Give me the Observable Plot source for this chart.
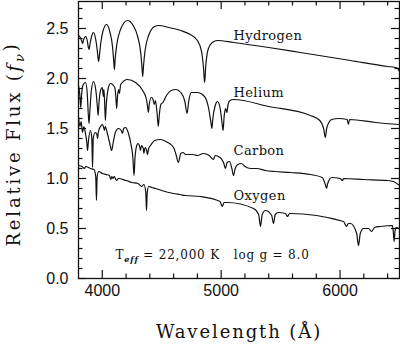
<!DOCTYPE html>
<html><head><meta charset="utf-8">
<script src="https://cdn.jsdelivr.net/npm/d3@7"></script>
<script src="https://cdn.jsdelivr.net/npm/@observablehq/plot@0.6"></script>
<style>
html,body{margin:0;padding:0;background:#fff}
#chart{width:400px;height:346px}
svg text{white-space:pre}
</style>
</head><body><div id="chart"></div>
<script>
// Spectra: [wavelength (Å), relative flux]
const hydrogen = [
 [3800,2.43],[3815,2.41],[3828,2.37],[3835,2.35],[3843,2.39],[3860,2.42],[3875,2.37],[3883,2.31],[3889,2.29],[3896,2.34],[3910,2.42],[3926,2.46],
 [3945,2.39],[3958,2.28],[3966,2.19],[3970,2.17],[3975,2.22],[3988,2.36],[4005,2.47],[4036,2.54],[4065,2.46],[4085,2.33],[4096,2.18],[4102,2.09],
 [4108,2.19],[4122,2.34],[4150,2.48],[4212,2.58],[4260,2.53],[4300,2.41],[4325,2.24],[4334,2.11],[4340,2.02],[4347,2.13],[4360,2.28],[4390,2.43],
 [4440,2.52],[4475,2.53],[4560,2.51],[4660,2.48],[4740,2.44],[4800,2.38],[4835,2.27],[4852,2.10],[4861,1.96],[4870,2.12],[4890,2.29],[4925,2.36],
 [4969,2.38],[5104,2.36],[5400,2.31],[5667,2.26],[6088,2.18],[6400,2.12],[6466,2.11],[6485,2.10],[6500,2.07]
];
const helium = [
 [3800,1.93],[3810,1.85],[3819,1.71],[3826,1.84],[3840,1.94],[3859,1.96],[3873,1.86],[3883,1.63],[3889,1.55],[3895,1.66],[3908,1.88],[3926,1.97],
 [3945,1.89],[3958,1.73],[3965,1.63],[3972,1.75],[3985,1.88],[4000,1.91],[4009,1.82],[4014,1.89],[4020,1.76],[4026,1.58],[4033,1.73],[4050,1.90],
 [4069,1.95],[4105,1.91],[4114,1.82],[4121,1.70],[4128,1.82],[4137,1.89],[4144,1.85],[4155,1.94],[4212,1.99],[4280,1.96],[4340,1.88],[4372,1.79],
 [4383,1.70],[4388,1.66],[4395,1.74],[4412,1.81],[4424,1.80],[4438,1.74],[4447,1.78],[4462,1.64],[4471,1.52],[4480,1.64],[4492,1.74],[4510,1.76],
 [4540,1.83],[4580,1.88],[4620,1.89],[4660,1.86],[4695,1.77],[4713,1.65],[4728,1.78],[4750,1.86],[4800,1.86],[4860,1.82],[4893,1.71],[4914,1.56],
 [4922,1.50],[4930,1.60],[4950,1.73],[4969,1.77],[4990,1.71],[5006,1.57],[5016,1.48],[5025,1.62],[5036,1.70],[5048,1.66],[5058,1.74],[5075,1.78],
 [5104,1.79],[5400,1.72],[5750,1.63],[5830,1.58],[5862,1.50],[5876,1.41],[5889,1.51],[5930,1.59],[5990,1.60],[6060,1.59],[6070,1.54],[6080,1.59],
 [6300,1.56],[6500,1.54]
];
const carbon = [
 [3800,1.62],[3812,1.52],[3822,1.57],[3834,1.46],[3845,1.52],[3860,1.44],[3870,1.36],[3876,1.28],[3884,1.38],[3901,1.48],[3912,1.40],[3918,1.11],
 [3924,1.40],[3940,1.46],[3955,1.44],[3960,1.40],[3966,1.46],[3985,1.52],[4002,1.54],[4012,1.51],[4019,1.48],[4025,1.52],[4045,1.44],[4065,1.34],
 [4078,1.28],[4092,1.36],[4110,1.46],[4136,1.50],[4160,1.48],[4170,1.45],[4180,1.50],[4195,1.51],[4215,1.47],[4240,1.35],[4258,1.20],[4267,1.03],
 [4276,1.22],[4290,1.33],[4300,1.35],[4315,1.32],[4321,1.28],[4330,1.33],[4345,1.30],[4350,1.25],[4360,1.31],[4375,1.27],[4380,1.24],[4390,1.30],
 [4406,1.33],[4440,1.38],[4490,1.39],[4550,1.36],[4600,1.31],[4620,1.24],[4640,1.16],[4660,1.25],[4680,1.26],[4700,1.24],[4760,1.24],[4800,1.23],
 [4850,1.25],[4900,1.23],[4935,1.19],[4950,1.23],[4990,1.21],[5020,1.16],[5036,1.10],[5050,1.16],[5070,1.17],[5090,1.10],[5104,1.03],[5118,1.10],
 [5140,1.14],[5170,1.15],[5200,1.12],[5250,1.10],[5300,1.10],[5373,1.08],[5450,1.07],[5583,1.06],[5751,1.04],[5850,1.01],[5876,0.94],[5886,0.90],
 [5896,0.95],[5930,1.01],[6000,1.00],[6021,0.98],[6030,1.00],[6200,0.99],[6400,0.98],[6450,0.97],[6500,0.93]
];
const oxygen = [
 [3800,1.13],[3830,1.12],[3850,1.10],[3860,1.12],[3900,1.10],[3930,1.09],[3945,1.02],[3951,0.78],[3957,1.02],[3970,1.07],[4000,1.05],[4030,1.04],
 [4060,1.03],[4072,0.99],[4080,1.02],[4090,1.00],[4100,1.02],[4120,0.98],[4135,1.00],[4200,0.98],[4250,0.96],[4300,0.95],[4330,0.92],[4350,0.94],
 [4366,0.86],[4372,0.68],[4378,0.86],[4390,0.92],[4420,0.91],[4450,0.90],[4500,0.88],[4600,0.85],[4650,0.84],[4700,0.83],[4826,0.82],[4990,0.77],
 [5009,0.72],[5025,0.76],[5053,0.76],[5272,0.70],[5315,0.64],[5331,0.52],[5345,0.64],[5373,0.68],[5425,0.63],[5440,0.55],[5455,0.64],[5482,0.66],
 [5540,0.65],[5558,0.62],[5575,0.65],[6029,0.57],[6054,0.52],[6070,0.55],[6088,0.55],[6140,0.45],[6155,0.33],[6170,0.45],[6197,0.50],[6240,0.50],
 [6264,0.47],[6290,0.51],[6340,0.52],[6441,0.53],[6449,0.45],[6455,0.37],[6461,0.46],[6470,0.51],[6500,0.50]
];
const elements = ["Hydrogen","Helium","Carbon","Oxygen"];
const labelWave = [5104,5104,5104,5104];
const labelFlux = [2.43,1.86,1.275,0.825];
const xMajor = [4000,5000,6000];
const xMinor = [4200,4400,4600,4800,5200,5400,5600,5800,6200,6400];
const yMajor = [0,0.5,1,1.5,2,2.5];
const yMinor = d3.range(1,28).map(i=>i/10).filter(v=>Math.abs(v*2-Math.round(v*2))>1e-6);
const note = {w:4111, f:0.23, text:"Teff = 22,000 K   log g = 8.0"};
const xTitle = "Wavelength (Å)";
const yTitle = "Relative Flux (fν)";

const rows = [];
[hydrogen,helium,carbon,oxygen].forEach((s,i)=>s.forEach(([w,f])=>rows.push({el:elements[i],w,f})));
const labels = elements.map((e,i)=>({e,w:labelWave[i],f:labelFlux[i]}));

const W=400,H=346,mL=78,mR=1,mT=1,mB=68;
const ph = H-mT-mB, pw = W-mL-mR;
const serif = "DejaVu Serif";
const sans = "Liberation Sans";

const chart = Plot.plot({
  width:W,height:H,marginLeft:mL,marginRight:mR,marginTop:mT,marginBottom:mB,
  x:{domain:[3800,6500]},
  y:{domain:[0,2.77]},
  style:{background:"#fff",color:"#111"},
  marks:[
    Plot.line(rows,{x:"w",y:"f",z:"el",curve:"monotone-x",stroke:"#111",strokeWidth:1.2}),
    Plot.frame({stroke:"#111",strokeWidth:1.3}),
    Plot.tickX(xMajor,{x:d=>d,insetTop:ph-8,stroke:"#111",strokeWidth:1.2}),
    Plot.tickX(xMajor,{x:d=>d,insetBottom:ph-8,stroke:"#111",strokeWidth:1.2}),
    Plot.tickX(xMinor,{x:d=>d,insetTop:ph-4.5,stroke:"#111",strokeWidth:1.2}),
    Plot.tickX(xMinor,{x:d=>d,insetBottom:ph-4.5,stroke:"#111",strokeWidth:1.2}),
    Plot.tickY(yMajor,{y:d=>d,insetRight:pw-8,stroke:"#111",strokeWidth:1.2}),
    Plot.tickY(yMajor,{y:d=>d,insetLeft:pw-8,stroke:"#111",strokeWidth:1.2}),
    Plot.tickY(yMinor,{y:d=>d,insetRight:pw-4.5,stroke:"#111",strokeWidth:1.2}),
    Plot.tickY(yMinor,{y:d=>d,insetLeft:pw-4.5,stroke:"#111",strokeWidth:1.2}),
    Plot.axisX(xMajor,{tickSize:0,tickPadding:6,fontSize:16,fontFamily:sans,label:null,tickFormat:d=>String(d)}),
    Plot.axisY(yMajor,{tickSize:0,tickPadding:10,fontSize:16,fontFamily:sans,label:null,tickFormat:d=>d.toFixed(1)}),
    Plot.text(labels,{x:"w",y:"f",text:"e",textAnchor:"start",fontFamily:serif,fontSize:13,fill:"#111"}),
    Plot.text([note],{x:"w",y:"f",text:"text",textAnchor:"start",fontFamily:serif,fontSize:12,fill:"#111"}),
    Plot.text([xTitle],{frameAnchor:"bottom",textAnchor:"middle",dy:59,fontFamily:serif,fontSize:18,fill:"#111"}),
    Plot.text([yTitle],{frameAnchor:"left",textAnchor:"middle",dx:-64,dy:4,rotate:-90,fontFamily:serif,fontSize:18,fill:"#111"})
  ]
});
document.getElementById("chart").appendChild(chart);

// rich text: italic f with subscript nu; T with subscript eff; letter spacing
const svg = d3.select(chart);
svg.selectAll("text").each(function(){
  const t = d3.select(this);
  const s = t.text();
  if (s === yTitle) {
    t.style("letter-spacing","2.8px");
    t.text(null);
    t.append("tspan").text("Relative Flux (");
    t.append("tspan").attr("font-style","italic").text("f");
    t.append("tspan").attr("dy","0.3em").attr("font-size","13").attr("font-style","italic").text("ν");
    t.append("tspan").attr("dy","-0.42em").text(")");
  } else if (s === note.text) {
    t.style("letter-spacing","0.8px");
    t.text(null);
    t.append("tspan").text("T");
    t.append("tspan").attr("dy","0.35em").attr("font-size","8").attr("font-weight","bold").attr("font-style","italic").text("eff");
    t.append("tspan").attr("dy","-0.25em").text(" = 22,000 K   log g = 8.0");
  } else if (s === xTitle) {
    t.style("letter-spacing","1.9px");
  } else if (elements.includes(s)) {
    t.style("letter-spacing","0.4px");
  }
});
</script>
</body></html>
